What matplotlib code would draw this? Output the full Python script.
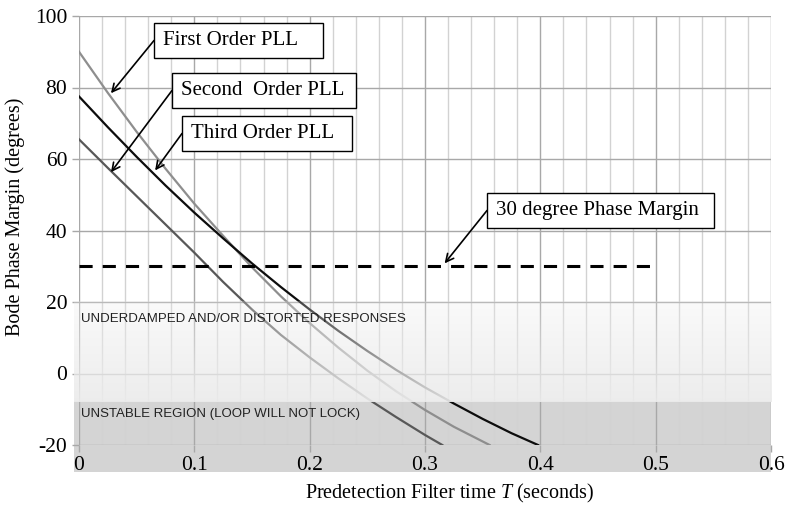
import numpy as np
import matplotlib
matplotlib.use("Agg")
import matplotlib.pyplot as plt
from matplotlib.patches import Rectangle

plt.rcParams["mathtext.fontset"] = "custom"
plt.rcParams["mathtext.it"] = "Liberation Serif:italic"
plt.rcParams["mathtext.rm"] = "Liberation Serif"

# predetection time T (s) and Bode phase margin (deg)
t_first = [0, 0.025, 0.05, 0.075, 0.1, 0.125, 0.15, 0.175, 0.2, 0.225, 0.25, 0.275, 0.3, 0.325, 0.356]
pm_first = [90, 78.5, 67.6, 57.3, 47.5, 38.5, 29.7, 21.6, 14.1, 7.2, 0.8, -5.0, -10.2, -14.9, -20]

t_second = [0, 0.025, 0.05, 0.075, 0.1, 0.125, 0.15, 0.175, 0.2, 0.225, 0.25, 0.275, 0.3, 0.325, 0.35, 0.375, 0.398]
pm_second = [77.5, 68.9, 60.6, 52.6, 45.0, 37.8, 30.8, 24.2, 17.9, 11.9, 6.3, 1.0, -3.9, -8.4, -12.7, -16.7, -20]

t_third = [0, 0.025, 0.05, 0.075, 0.1, 0.125, 0.15, 0.175, 0.2, 0.225, 0.25, 0.275, 0.3, 0.315]
pm_third = [65.5, 57.5, 49.6, 41.7, 33.8, 25.6, 17.9, 10.8, 4.5, -1.4, -7.0, -12.2, -17.2, -20]

margin_t = [0, 0.5]
margin_pm = [30, 30]

x_ticks = [0, 0.1, 0.2, 0.3, 0.4, 0.5, 0.6]
x_labels = ["0", "0.1", "0.2", "0.3", "0.4", "0.5", "0.6"]
y_ticks = [-20, 0, 20, 40, 60, 80, 100]
y_labels = ["-20", "0", "20", "40", "60", "80", "100"]

W, H = 787, 512
serif = "Liberation Serif"
sans = "Liberation Sans"


def fx(x):
    return x / W


def fy(y):
    return 1 - y / H


fig = plt.figure(figsize=(W / 100, H / 100), dpi=100)
ax = fig.add_axes([fx(79), fy(445), (771 - 79) / W, (445 - 16) / H])
ax.set_facecolor("none")

# unstable region band (runs under the tick labels as well)
fig.patches.append(Rectangle((fx(74), fy(472)), (771 - 74) / W, (472 - 401) / H,
                             transform=fig.transFigure, facecolor="#d4d4d4",
                             edgecolor="none", zorder=-1))

ax.plot(t_first, pm_first, color="#8e8e8e", lw=1.6, zorder=2)
ax.plot(t_second, pm_second, color="#0d0d0d", lw=1.6, zorder=2)
ax.plot(t_third, pm_third, color="#585858", lw=1.6, zorder=2)
ax.plot(margin_t, margin_pm, color="black", lw=2.2, dashes=(4.3, 3.3), zorder=4)

# fading band for underdamped responses (drawn over the curves)
n = 200
alpha = np.linspace(0.25, 0.93, n)[:, None]
grad = np.zeros((n, 1, 4))
grad[..., 0:3] = 0.925
grad[..., 3] = alpha
ax.imshow(grad, extent=[-0.0045, 0.6, -8, 20], aspect="auto", origin="upper",
          interpolation="bilinear", zorder=3, clip_on=False)

ax.text(0.002, 15.3, "UNDERDAMPED AND/OR DISTORTED RESPONSES", family=sans,
        fontsize=9.5, color="#222222", va="center", ha="left", zorder=5)
ax.text(0.002, -11.3, "UNSTABLE REGION (LOOP WILL NOT LOCK)", family=sans,
        fontsize=9.5, color="#222222", va="center", ha="left", zorder=5)

ax.set_xlim(0, 0.6)
ax.set_ylim(-20, 100)
ax.set_xticks(x_ticks)
ax.set_xticklabels(x_labels)
ax.set_xticks(np.arange(0, 0.6001, 0.02), minor=True)
ax.set_yticks(y_ticks)
ax.set_yticklabels(y_labels)
ax.grid(True, which="major", color="#a8a8a8", lw=1.0, zorder=1)
ax.grid(True, which="minor", axis="x", color="#d2d2d2", lw=1.0, zorder=1)
ax.set_axisbelow(True)
for s in ax.spines.values():
    s.set_visible(False)
ax.tick_params(which="major", length=5, color="#a8a8a8", width=1.0)
ax.tick_params(which="minor", length=0)
ax.tick_params(axis="y", pad=3.5)
ax.tick_params(axis="x", pad=3)
for lab in ax.get_xticklabels() + ax.get_yticklabels():
    lab.set_family(serif)
    lab.set_fontsize(15.5)

ax.set_ylabel("Bode Phase Margin (degrees)", family=serif, fontsize=14.5, va="center")
ax.yaxis.set_label_coords(-0.0925, 0.531)
ax.set_xlabel("Predetection Filter time $T$ (seconds)", family=serif,
              fontsize=14.5, va="center")
ax.xaxis.set_label_coords(0.536, -0.112)

# callout boxes: (text, box left, top, right, bottom in px, arrow target in data)
callouts = [
    ("First Order PLL", (154, 23, 323, 58), (0.0277, 78.4)),
    ("Second  Order PLL", (172, 73, 356, 108), (0.0277, 56.3)),
    ("Third Order PLL", (182, 116, 352, 151), (0.066, 56.8)),
    ("30 degree Phase Margin", (487, 193, 714, 228), (0.317, 30.8)),
]
for text, (l, t, r, b), target in callouts:
    fig.patches.append(Rectangle((fx(l), fy(b)), (r - l) / W, (b - t) / H,
                                 transform=fig.transFigure, facecolor="white",
                                 edgecolor="black", lw=1.0, zorder=6))
    fig.text(fx(l + 9), fy((t + b) / 2), text, family=serif, fontsize=15,
             va="center", ha="left", zorder=7)
    ax.annotate("", xy=target, xycoords="data",
                xytext=(fx(l), fy((t + b) / 2)), textcoords="figure fraction",
                arrowprops=dict(arrowstyle="->", color="black", lw=1.2,
                                mutation_scale=14, shrinkA=0, shrinkB=0),
                zorder=6)

fig.savefig("out.png", dpi=100)
